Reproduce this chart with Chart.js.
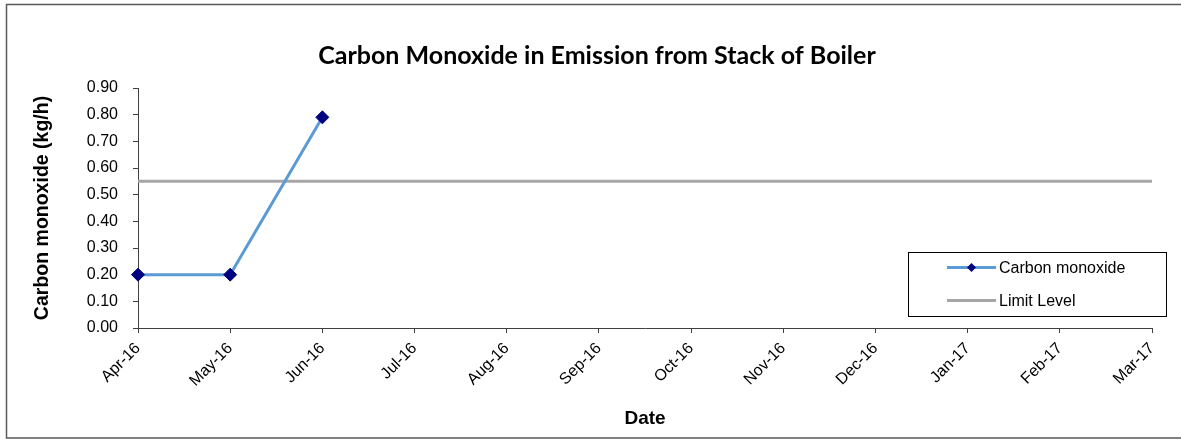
<!DOCTYPE html>
<html>
<head>
<meta charset="utf-8">
<script src="https://cdn.jsdelivr.net/npm/chart.js@4.4.1/dist/chart.umd.min.js"></script>
<style>
  body { margin: 0; background: #fff; }
</style>
</head>
<body>
<canvas id="myChart" width="1181" height="439"></canvas>
<script>
var months = ["Apr-16","May-16","Jun-16","Jul-16","Aug-16","Sep-16","Oct-16","Nov-16","Dec-16","Jan-17","Feb-17","Mar-17"];
var coValues = [0.20, 0.20, 0.79, null, null, null, null, null, null, null, null, null];
var limitValues = [0.55, 0.55, 0.55, 0.55, 0.55, 0.55, 0.55, 0.55, 0.55, 0.55, 0.55, 0.55];
var seriesNames = ["Carbon monoxide", "Limit Level"];

// outer frame of the chart object
var framePlugin = {
  id: "frame",
  beforeDraw: function(chart) {
    var ctx = chart.ctx;
    ctx.save();
    ctx.fillStyle = "#fff";
    ctx.fillRect(0, 0, chart.width, chart.height);
    ctx.strokeStyle = "#595959";
    ctx.lineWidth = 1.5;
    ctx.strokeRect(6.5, 4.5, chart.width + 20, chart.height - 5.5);
    ctx.restore();
  }
};

// legend box inside the plot, like the excel one
var legendBox = {
  id: "legendBox",
  afterDraw: function(chart) {
    var ctx = chart.ctx;
    var x = 908, y = 252, w = 258, h = 64;
    ctx.save();
    ctx.fillStyle = "#fff";
    ctx.fillRect(x, y, w, h);
    ctx.strokeStyle = "#000";
    ctx.lineWidth = 1;
    ctx.strokeRect(x + 0.5, y + 0.5, w, h);
    ctx.font = "16px 'Liberation Sans', Arial, sans-serif";
    ctx.textBaseline = "middle";
    chart.data.datasets.forEach(function(ds, i) {
      var ly = y + 15.5 + i * 33;
      ctx.strokeStyle = ds.borderColor;
      ctx.lineWidth = ds.borderWidth;
      ctx.beginPath();
      ctx.moveTo(x + 39, ly);
      ctx.lineTo(x + 88, ly);
      ctx.stroke();
      if (ds.pointRadius > 0) {
        ctx.fillStyle = ds.pointBackgroundColor;
        ctx.beginPath();
        ctx.moveTo(x + 63.5, ly - 4.5);
        ctx.lineTo(x + 68, ly);
        ctx.lineTo(x + 63.5, ly + 4.5);
        ctx.lineTo(x + 59, ly);
        ctx.closePath();
        ctx.fill();
      }
      ctx.fillStyle = "#000";
      ctx.fillText(ds.label, x + 91, ly + 1);
    });
    ctx.restore();
  }
};

var myChart = new Chart("myChart", {
  type: "line",
  data: {
    labels: months,
    datasets: [{
      label: seriesNames[0],
      data: coValues,
      borderColor: "#5B9BD5",
      borderWidth: 3,
      fill: false,
      tension: 0,
      pointStyle: "rectRot",
      pointRadius: 6.5,
      pointBackgroundColor: "#000080",
      pointBorderColor: "#000080",
      pointBorderWidth: 1
    }, {
      label: seriesNames[1],
      data: limitValues,
      borderColor: "#A6A6A6",
      borderWidth: 3,
      fill: false,
      tension: 0,
      pointRadius: 0
    }]
  },
  options: {
    responsive: false,
    animation: false,
    layout: { padding: { left: 42, right: 29, top: 0, bottom: 0 } },
    plugins: {
      legend: { display: false },
      tooltip: { enabled: false },
      title: {
        display: true,
        text: "Carbon Monoxide in Emission from Stack of Boiler",
        color: "#000",
        font: { family: "Lato, 'Open Sans', sans-serif", size: 25, weight: "bold" },
        padding: { top: 41, bottom: 17 }
      }
    },
    scales: {
      x: {
        offset: false,
        grid: { display: true, drawOnChartArea: false, drawTicks: true, tickLength: 5, color: "#404040" },
        border: { color: "#404040", width: 1 },
        ticks: {
          autoSkip: false, minRotation: 45, maxRotation: 45, padding: 6,
          color: "#000",
          font: { family: "'Liberation Sans', Arial, sans-serif", size: 16 }
        },
        title: {
          display: true, text: "Date", color: "#000",
          font: { family: "'Liberation Sans', Arial, sans-serif", size: 19, weight: "bold" },
          padding: { top: 0, bottom: 9 }
        },
        afterFit: function(scale) { scale.height = 111; }
      },
      y: {
        min: 0, max: 0.9,
        grid: { display: true, drawOnChartArea: false, drawTicks: true, tickLength: 5, color: "#404040" },
        border: { color: "#404040", width: 1 },
        ticks: {
          stepSize: 0.1, padding: 15, color: "#000",
          font: { family: "'Liberation Sans', Arial, sans-serif", size: 16 },
          callback: function(v) { return v.toFixed(2); }
        },
        title: {
          display: true, text: "Carbon monoxide (kg/h)", color: "#000",
          font: { family: "'Liberation Sans', Arial, sans-serif", size: 19.5, weight: "bold" },
          padding: { top: -11, bottom: 0 }
        },
        afterFit: function(scale) { scale.width = 96; }
      }
    }
  },
  plugins: [framePlugin, legendBox]
});
</script>
</body>
</html>
